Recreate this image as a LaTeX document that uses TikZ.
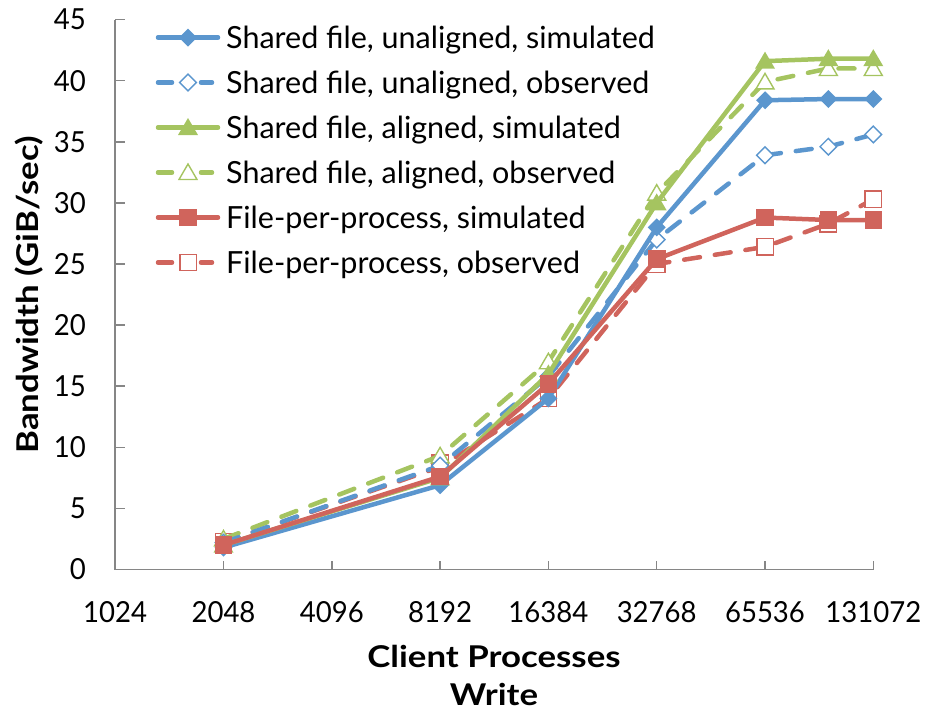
\documentclass[tikz,border=0pt]{standalone}
\usepackage{fontspec}
\setmainfont{Lato}
\newfontfamily\tickfont[FakeStretch=0.95]{Lato}
\newfontfamily\ttlfont[FakeStretch=1.16]{Lato}
\definecolor{cb}{HTML}{5B96CE}
\definecolor{cg}{HTML}{A5C460}
\definecolor{cr}{HTML}{D0645C}
\definecolor{axisgray}{HTML}{868686}
\tikzset{
  simline/.style={line width=4.5pt, line join=round, line cap=round},
  obsline/.style={line width=4.5pt, line join=round, line cap=round, dash pattern=on 16pt off 15pt},
  fdia/.pic={\fill (0,9pt)--(9pt,0)--(0,-9pt)--(-9pt,0)--cycle;},
  odia/.pic={\filldraw[fill=white,line width=1.4pt] (0,8.3pt)--(8.3pt,0)--(0,-8.3pt)--(-8.3pt,0)--cycle;},
  ftri/.pic={\fill (0,9.5pt)--(10pt,-7.5pt)--(-10pt,-7.5pt)--cycle;},
  otri/.pic={\filldraw[fill=white,line width=1.4pt] (0,8.5pt)--(9pt,-7pt)--(-9pt,-7pt)--cycle;},
  fsq/.pic={\fill (-8.8pt,-8.8pt) rectangle (8.8pt,8.8pt);},
  osq/.pic={\filldraw[fill=white,line width=1.4pt] (-8.2pt,-8.2pt) rectangle (8.2pt,8.2pt);},
  leg/.style={font=\fontsize{30.5}{33}\selectfont, inner sep=0pt},
  lab/.style={font=\tickfont\fontsize{29}{32}\selectfont, inner sep=0pt},
  ttl/.style={font=\ttlfont\fontsize{30}{33}\selectfont\bfseries, inner sep=0pt},
  axisline/.style={axisgray, line width=1.5pt},
}
\begin{document}
\begin{tikzpicture}[x=1pt,y=-1pt]
\useasboundingbox (0,0) rectangle (930,710);

% legend
\node[leg, anchor=base west] (lg1) at (226,48.3) {Shared file, unaligned, simulated};
\node[leg, anchor=base west] (lg2) at (226,93.3) {Shared file, unaligned, observed};
\node[leg, anchor=base west] (lg3) at (226,138.3) {Shared file, aligned, simulated};
\node[leg, anchor=base west] (lg4) at (226,183.3) {Shared file, aligned, observed};
\node[leg, anchor=base west] (lg5) at (226,228.3) {File-per-process, simulated};
\node[leg, anchor=base west] (lg6) at (226,273.3) {File-per-process, observed};

\coordinate (s1) at (188,37.5);
\coordinate (s2) at (188,82.5);
\coordinate (s3) at (188,127.5);
\coordinate (s4) at (188,172.5);
\coordinate (s5) at (188,217.5);
\coordinate (s6) at (188,262.5);
\foreach \n/\c/\m in {1/cb/fdia,3/cg/ftri,5/cr/fsq}{
  \draw[\c, simline] ([xshift=-30pt]s\n) -- ([xshift=30pt]s\n);
  \pic[\c] at (s\n) {\m};
}
\foreach \n/\c/\m in {2/cb/odia,4/cg/otri,6/cr/osq}{
  \draw[\c, simline] ([xshift=-30pt]s\n) -- ([xshift=-16pt]s\n);
  \draw[\c, simline] ([xshift=13pt]s\n) -- ([xshift=24pt]s\n);
  \pic[\c] at (s\n) {\m};
}

% axis titles
\node[ttl, anchor=base] (xt) at (494,667) {Client Processes};
\node[ttl, anchor=base] (wt) at (494,705) {Write};
\node[ttl, anchor=base, rotate=90] (yt) at (38,295) {Bandwidth (GiB/sec)};

\begin{scope}[shift={(115.2,569.5)}, x=108.3pt, y=12.22pt]
  % axes
  \draw[axisline] (0,45) -- (0,0) -- (7,0);
  \foreach \v in {0,5,...,45}{
    \draw[axisline] (0,\v) -- ++(10pt,0);
    \node[lab, anchor=east] (yl\v) at (-0.27,\v) {\v};
  }
  \foreach \k in {1,...,7}{
    \draw[axisline] (\k,0) -- ++(0,9pt);
  }
  \foreach \k/\l in {0/1024,1/2048,2/4096,3/8192,4/16384,5/32768,6/65536,7/131072}{
    \node[lab, anchor=base] (xl\k) at (\k,-4.3) {\l};
  }

  % red observed
  \draw[cr, obsline] (1,2.2) -- (3,8.4) -- (4,14.0) -- (5,25.0) -- (6,26.4) -- (6.585,28.3) -- (7,30.3);
  \foreach \a/\b in {1/2.3,3/8.7,4/14.0,5/25.0,6/26.4,6.585/28.3,7/30.3} \pic[cr] at (\a,\b) {osq};
  % green observed
  \draw[cg, obsline] (1,2.5) -- (3,9.3) -- (4,17.0) -- (5,30.8) -- (6,39.9) -- (6.585,41.0) -- (7,41.0);
  \foreach \a/\b in {1/2.5,3/9.3,4/17.0,5/30.8,6/39.9,6.585/41.0,7/41.0} \pic[cg] at (\a,\b) {otri};
  % blue observed
  \draw[cb, obsline] (1,2.2) -- (3,8.5) -- (4,15.8) -- (5,27.0) -- (6,33.9) -- (6.585,34.6) -- (7,35.6);
  \foreach \a/\b in {1/2.2,3/8.5,4/15.8,5/27.0,6/33.9,6.585/34.6,7/35.6} \pic[cb] at (\a,\b) {odia};
  % blue simulated
  \draw[cb, simline] (1,1.8) -- (3,6.9) -- (4,14.0) -- (5,28.0) -- (6,38.4) -- (6.585,38.5) -- (7,38.5);
  \foreach \a/\b in {1/1.8,3/6.9,4/14.0,5/28.0,6/38.4,6.585/38.5,7/38.5} \pic[cb] at (\a,\b) {fdia};
  % green simulated
  \draw[cg, simline] (1,2.0) -- (3,7.5) -- (4,16.0) -- (5,30.0) -- (6,41.6) -- (6.585,41.8) -- (7,41.8);
  \foreach \a/\b in {1/2.0,3/7.5,4/16.0,5/30.0,6/41.6,6.585/41.8,7/41.8} \pic[cg] at (\a,\b) {ftri};
  % red simulated
  \draw[cr, simline] (1,2.0) -- (3,7.6) -- (4,15.2) -- (5,25.4) -- (6,28.8) -- (6.585,28.6) -- (7,28.6);
  \foreach \a/\b in {1/2.0,3/7.6,4/15.2,5/25.4,6/28.8,6.585/28.6,7/28.6} \pic[cr] at (\a,\b) {fsq};
\end{scope}
\end{tikzpicture}
\end{document}
